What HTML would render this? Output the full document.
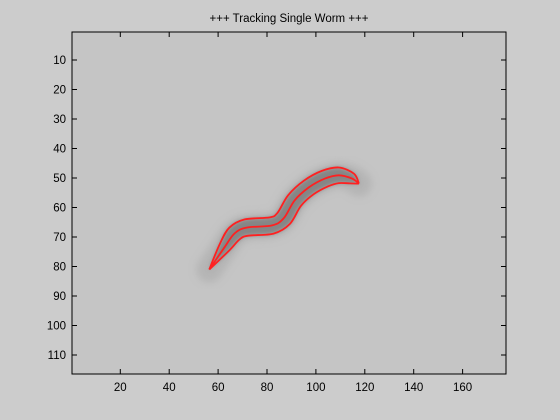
<!DOCTYPE html>
<html><head><meta charset="utf-8"><style>
body{margin:0;background:#cccccc;}
svg{display:block;font-family:"Liberation Sans",sans-serif;}
</style></head><body>
<svg id="chart" width="560" height="420">
<defs>
<filter id="blur" x="-20%" y="-20%" width="140%" height="140%"><feGaussianBlur stdDeviation="4"/></filter>
<filter id="blur2" x="-20%" y="-20%" width="140%" height="140%"><feGaussianBlur stdDeviation="2"/></filter>
</defs>
<rect x="0" y="0" width="560" height="420" fill="#cccccc"/>
<rect x="72" y="32" width="434" height="342" fill="#c5c5c5"/>
<g id="plot"></g>
<rect x="72" y="32" width="434" height="342" fill="none" stroke="#000" stroke-width="1"/>
<g id="ticks"></g>
<text x="289" y="22" text-anchor="middle" font-size="11.5" fill="#000">+++ Tracking Single Worm +++</text>
</svg>
<script>
const xTicks=[20,40,60,80,100,120,140,160];
const yTicks=[10,20,30,40,50,60,70,80,90,100,110];
const wormX=[56.4,62.6,66.7,71.6,81.9,86.8,91.3,97.1,103.7,109.4,114.8,117.6];
const wormY=[81.0,73.5,68.8,66.8,66.1,63.7,57.6,53.2,50.2,49.1,50.2,51.9];
const halfWidth=[0,2.2,3.0,3.2,3.2,3.2,3.2,3.2,3.2,3.0,2.0,0];
const NS='http://www.w3.org/2000/svg';
const sx=x=>71.4+2.445*x;
const sy=y=>30.5+2.95*y;
const plot=document.getElementById('plot');
const ticks=document.getElementById('ticks');
function mk(tag,attrs,parent){const e=document.createElementNS(NS,tag);for(const k in attrs)e.setAttribute(k,attrs[k]);parent.appendChild(e);return e;}
xTicks.forEach(t=>{
  const x=sx(t);
  const a=mk('line',{x1:x,x2:x,y1:374,y2:369,stroke:'#000'},ticks);
  
  
  const b=mk('line',{x1:x,x2:x,y1:32,y2:37,stroke:'#000'},ticks);
  
  
  const l=mk('text',{x:x,y:391,'text-anchor':'middle','font-size':'11.5',fill:'#000'},ticks);
  l.textContent=t;
  
  
});
yTicks.forEach(t=>{
  const y=sy(t);
  const a=mk('line',{x1:72,x2:77,y1:y,y2:y,stroke:'#000'},ticks);
  
  
  const b=mk('line',{x1:506,x2:501,y1:y,y2:y,stroke:'#000'},ticks);
  
  
  const l=mk('text',{x:66,y:y+4,'text-anchor':'end','font-size':'11.5',fill:'#000'},ticks);
  l.textContent=t;
  
  
});
const cx=wormX.map(sx), cy=wormY.map(sy);
const n=cx.length;
const left=[],right=[],center=[];
for(let i=0;i<n;i++){
  const i0=Math.max(0,i-1),i1=Math.min(n-1,i+1);
  let dx=cx[i1]-cx[i0],dy=cy[i1]-cy[i0];const L=Math.hypot(dx,dy)||1;dx/=L;dy/=L;
  const w=halfWidth[i]*2.6;
  left.push([cx[i]-dy*w,cy[i]+dx*w]);
  right.push([cx[i]+dy*w,cy[i]-dx*w]);
  center.push([cx[i],cy[i]]);
}
function smooth(a){
  let d='M'+a[0][0].toFixed(1)+','+a[0][1].toFixed(1);
  for(let i=0;i<a.length-1;i++){
    const p0=a[Math.max(0,i-1)],p1=a[i],p2=a[i+1],p3=a[Math.min(a.length-1,i+2)];
    const c1=[p1[0]+(p2[0]-p0[0])/6,p1[1]+(p2[1]-p0[1])/6];
    const c2=[p2[0]-(p3[0]-p1[0])/6,p2[1]-(p3[1]-p1[1])/6];
    d+=' C'+c1.map(v=>v.toFixed(1)).join(',')+' '+c2.map(v=>v.toFixed(1)).join(',')+' '+p2[0].toFixed(1)+','+p2[1].toFixed(1);
  }
  return d;
}
const sh=mk('path',{d:smooth(center),fill:'none',stroke:'#a5a5a5','stroke-width':26,'stroke-linecap':'round','stroke-linejoin':'round',filter:'url(#blur)',opacity:0.5},plot);


const body=mk('path',{d:smooth(left)+' L'+smooth(right.slice().reverse()).slice(1)+' Z',fill:'#858585',stroke:'none',filter:'url(#blur2)'},plot);


[['worm-outline-left',left],['worm-centerline',center],['worm-outline-right',right]].forEach(([nm,a])=>{
  const p=mk('path',{d:smooth(a),fill:'none',stroke:'#ff2020','stroke-width':1.8,'stroke-linejoin':'round'},plot);
  
  
});
</script>
</body></html>
